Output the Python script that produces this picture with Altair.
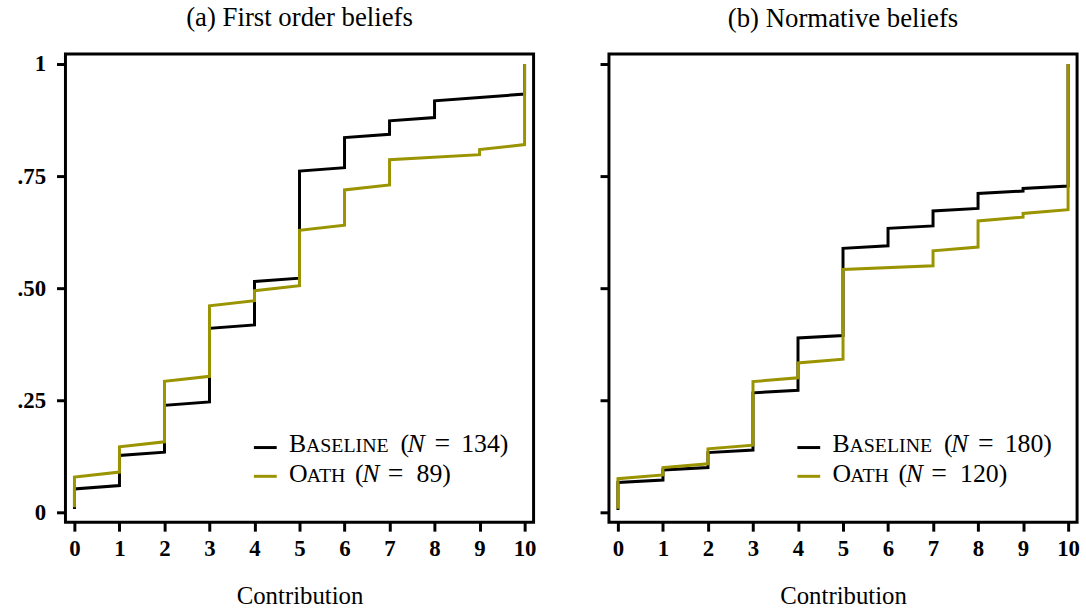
import altair as alt
import pandas as pd

# ---- data -------------------------------------------------------------
contribution = [0, 1, 2, 3, 4, 5, 6, 7, 8, 9, 10]

# number of answers at each contribution level
a_baseline_counts = [7, 10, 15, 23, 14, 33, 10, 5, 6, 1, 10]   # N = 134
a_oath_counts = [7, 6, 13, 15, 3, 12, 8, 6, 0, 2, 17]          # N = 89
b_baseline_counts = [12, 5, 7, 24, 22, 36, 8, 7, 7, 2, 50]     # N = 180
b_oath_counts = [9, 3, 5, 18, 5, 25, 0, 5, 8, 2, 40]           # N = 120

panel_titles = ["(a) First order beliefs", "(b) Normative beliefs"]
series_names = ["Baseline", "Oath"]
y_tick_values = [0, 0.25, 0.5, 0.75, 1]
y_tick_labels = ["0", ".25", ".50", ".75", "1"]
x_title = "Contribution"

BLACK = "#000000"
OLIVE = "#9a9400"
FONT = "Liberation Serif"


def ecdf_frame(counts):
    n = sum(counts)
    rows = []
    rank = 0
    for value, c in zip(contribution, counts):
        for _ in range(c):
            rank += 1
            rows.append({"x": value, "y": rank / n, "rank": rank})
    return pd.DataFrame(rows)


label_expr = " : ".join(
    f"datum.value == {v} ? '{l}'" for v, l in zip(y_tick_values, y_tick_labels)
) + " : ''"

xscale = alt.Scale(domain=[-0.2, 10.2], nice=False, zero=False)
yscale = alt.Scale(domain=[-0.022, 1.022], nice=False, zero=False)


def piece(text, x, y, size=26, style="normal"):
    return alt.Chart(pd.DataFrame({"t": [text]})).mark_text(
        align="left", baseline="alphabetic", font=FONT, fontSize=size,
        fontStyle=style, color="black"
    ).encode(x=alt.value(x), y=alt.value(y), text="t:N")


def legend_layers(n_base, n_oath):
    y1, y2 = 401.5, 431.0
    layers = [
        alt.Chart(pd.DataFrame({"a": [0]})).mark_rule(color=BLACK, strokeWidth=3)
        .encode(x=alt.value(190), x2=alt.value(213), y=alt.value(396.7)),
        alt.Chart(pd.DataFrame({"a": [0]})).mark_rule(color=OLIVE, strokeWidth=3)
        .encode(x=alt.value(190), x2=alt.value(213), y=alt.value(425.7)),
        # Baseline (N = ...)
        piece(series_names[0][0], 225.3, y1),
        piece(series_names[0][1:].upper(), 242.5, y1, size=20),
        piece("(", 337.7, y1),
        piece("N", 345, y1, style="italic"),
        piece("=", 372, y1, size=28),
        piece(f"{n_base})", 399, y1),
        # Oath (N = ...)
        piece(series_names[1][0], 225.3, y2),
        piece(series_names[1][1:].upper(), 243.3, y2, size=20),
        piece("(", 292, y2),
        piece("N", 299.3, y2, style="italic"),
        piece("=", 325, y2, size=28),
        piece(f"{n_oath})", 354, y2),
    ]
    return layers


def panel(title, base_counts, oath_counts, show_labels):
    yaxis = alt.Axis(
        values=y_tick_values, labelExpr=label_expr, labels=show_labels,
        title=None, grid=False, domain=False, ticks=True, tickSize=9,
        tickWidth=3, tickColor="black", labelFont=FONT, labelFontSize=23,
        labelFontWeight="bold", labelColor="black", labelPadding=11,
    )
    xaxis = alt.Axis(
        values=contribution, title=x_title, grid=False, domain=False,
        tickSize=9, tickWidth=3, tickColor="black", labelFont=FONT,
        labelFontSize=23, labelFontWeight="bold", labelColor="black",
        labelPadding=7, titleFont=FONT, titleFontSize=25,
        titleFontWeight="normal", titleColor="black", titlePadding=23,
    )
    base = alt.Chart(ecdf_frame(base_counts)).mark_line(
        color=BLACK, strokeWidth=3, strokeJoin="miter"
    ).encode(
        x=alt.X("x:Q", scale=xscale, axis=xaxis),
        y=alt.Y("y:Q", scale=yscale, axis=yaxis),
        order="rank:Q",
    )
    oath = alt.Chart(ecdf_frame(oath_counts)).mark_line(
        color=OLIVE, strokeWidth=3, strokeJoin="miter"
    ).encode(
        x=alt.X("x:Q", scale=xscale, axis=xaxis),
        y=alt.Y("y:Q", scale=yscale, axis=yaxis),
        order="rank:Q",
    )
    layers = [base, oath] + legend_layers(sum(base_counts), sum(oath_counts))
    return alt.layer(*layers).properties(
        width=472, height=472,
        title=alt.TitleParams(title, font=FONT, fontSize=27,
                              fontWeight="normal", color="black",
                              anchor="middle", offset=21),
    )


left = panel(panel_titles[0], a_baseline_counts, a_oath_counts, True)
right = panel(panel_titles[1], b_baseline_counts, b_oath_counts, False)

chart = alt.hconcat(left, right, spacing=60).properties(
    padding={"left": 15, "top": 0, "right": 5, "bottom": 5},
    background="white",
).configure_view(stroke="black", strokeWidth=3)

chart.save("out.html", embed_options={"renderer": "svg", "actions": False})
